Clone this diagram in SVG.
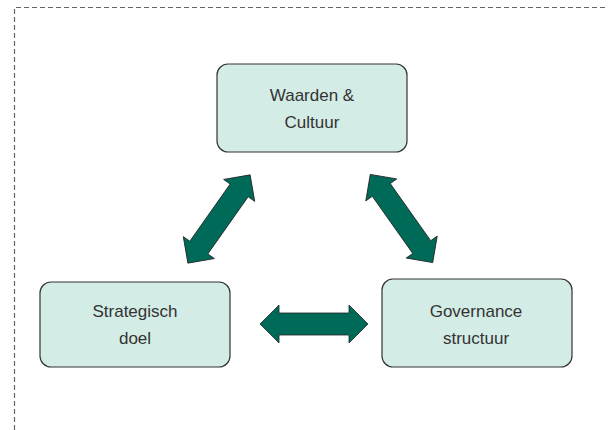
<svg xmlns="http://www.w3.org/2000/svg" width="608" height="430" viewBox="0 0 608 430">
<style>
.frame{fill:none;stroke:#666;stroke-width:1.2;stroke-dasharray:5 3}
.box{fill:#d3ece6;stroke:#333;stroke-width:1.2}
.lbl{font-family:"Liberation Sans",Arial,sans-serif;font-size:17px;fill:#333;text-anchor:middle}
.arr{fill:#006a58;stroke:#222;stroke-width:0.8;stroke-linejoin:miter}
</style>
<defs>
<polygon id="dbl" points="-54,0 -35,-19 -35,-11 35,-11 35,-19 54,0 35,19 35,11 -35,11 -35,19"/>
</defs>
<path class="frame" d="M14.5,430 V7.5 H608"/>
<g id="waarden">
<rect class="box" x="217" y="64" width="190" height="88" rx="11"/>
<text class="lbl" x="312" y="100.5">Waarden &amp;</text>
<text class="lbl" x="312" y="127.5">Cultuur</text>
</g>
<g id="strategisch">
<rect class="box" x="40" y="282" width="190" height="85" rx="11"/>
<text class="lbl" x="135" y="316.5">Strategisch</text>
<text class="lbl" x="135" y="343.5">doel</text>
</g>
<g id="governance">
<rect class="box" x="382" y="279" width="190" height="88" rx="11"/>
<text class="lbl" x="476" y="316.5">Governance</text>
<text class="lbl" x="476" y="343.5">structuur</text>
</g>
<g id="connectors">
<use href="#dbl" class="arr" transform="translate(219,219) rotate(-54.8)"/>
<use href="#dbl" class="arr" transform="translate(401.5,218.5) rotate(54.7)"/>
<use href="#dbl" class="arr" transform="translate(314,324)"/>
</g>
</svg>
